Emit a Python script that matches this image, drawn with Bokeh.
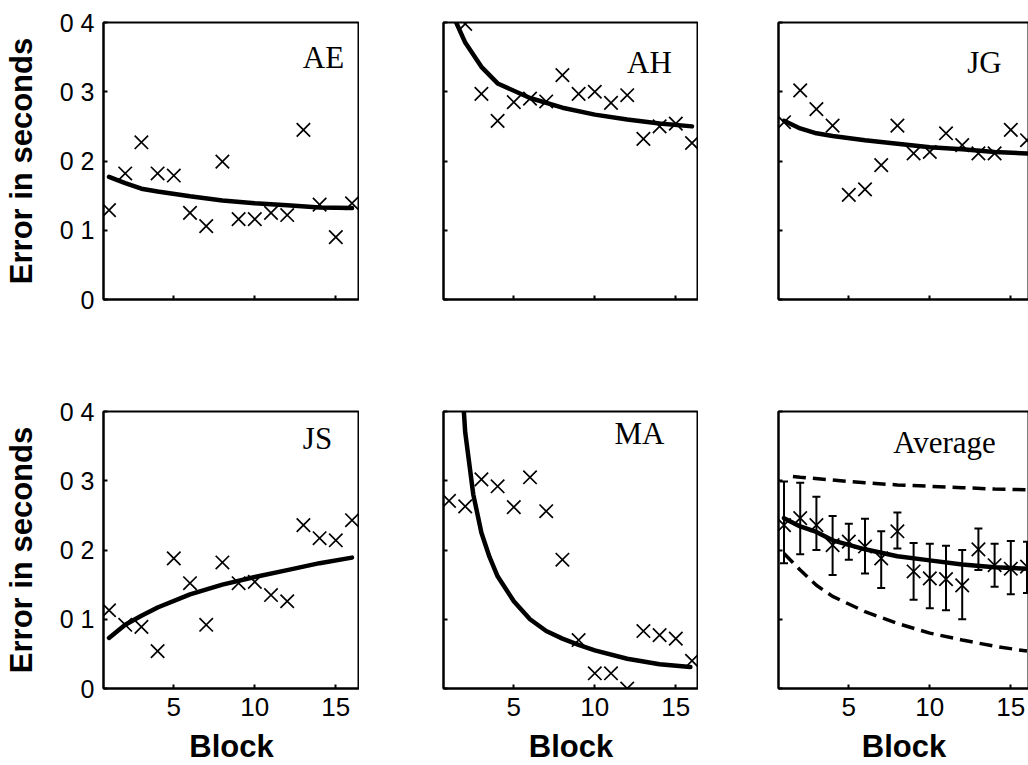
from bokeh.plotting import figure
from bokeh.layouts import column, row
from bokeh.models import Range1d, FixedTicker
from bokeh.core.properties import value
from bokeh.embed import file_html
from bokeh.resources import INLINE

# ---- data -------------------------------------------------------------
blocks = list(range(1, 17))
x_ticks = [5, 10, 15]
y_ticks = [0, 0.1, 0.2, 0.3, 0.4]
y_tick_labels = ["0", "0 1", "0 2", "0 3", "0 4"]

# per-subject timing error (s) for each block
ae_err = [0.129, 0.182, 0.227, 0.182, 0.179, 0.125, 0.106, 0.199,
          0.116, 0.116, 0.125, 0.122, 0.245, 0.137, 0.090, 0.139]
ah_err = [0.43, 0.398, 0.297, 0.258, 0.285, 0.290, 0.286, 0.324,
          0.297, 0.300, 0.284, 0.295, 0.232, 0.250, 0.254, 0.226]
jg_err = [0.256, 0.302, 0.275, 0.251, 0.151, 0.159, 0.194, 0.251,
          0.211, 0.213, 0.240, 0.223, 0.211, 0.211, 0.245, 0.230]
js_err = [0.113, 0.092, 0.089, 0.054, 0.188, 0.152, 0.092, 0.182,
          0.152, 0.154, 0.135, 0.126, 0.236, 0.217, 0.214, 0.243]
ma_err = [0.271, 0.263, 0.302, 0.292, 0.262, 0.305, 0.256, 0.186,
          0.070, 0.022, 0.022, 0.000, 0.083, 0.077, 0.072, 0.040]

# group mean with error-bar limits
avg_err = [0.236, 0.246, 0.236, 0.207, 0.212, 0.205, 0.188, 0.227,
           0.169, 0.159, 0.158, 0.149, 0.201, 0.178, 0.173, 0.176]
avg_hi = [0.299, 0.297, 0.277, 0.249, 0.238, 0.245, 0.227, 0.254,
          0.210, 0.209, 0.206, 0.200, 0.231, 0.209, 0.213, 0.212]
avg_lo = [0.181, 0.194, 0.200, 0.164, 0.186, 0.166, 0.145, 0.202,
          0.128, 0.116, 0.113, 0.100, 0.171, 0.147, 0.136, 0.138]

# fitted learning curves
fit_x = [1, 2, 3, 4, 6, 8, 10, 12, 14, 16]
ae_fit = [0.177, 0.168, 0.160, 0.156, 0.149, 0.143, 0.139, 0.136, 0.133, 0.132]
ah_fit = [0.423, 0.371, 0.336, 0.312, 0.291, 0.277, 0.267, 0.260, 0.254, 0.250]
jg_fit = [0.258, 0.247, 0.240, 0.236, 0.230, 0.225, 0.220, 0.217, 0.213, 0.211]
js_fit = [0.073, 0.092, 0.105, 0.117, 0.136, 0.150, 0.161, 0.171, 0.181, 0.189]
avg_fit = [0.246, 0.234, 0.226, 0.214, 0.201, 0.191, 0.185, 0.179, 0.175, 0.173]

ma_fit_x = [1, 1.5, 2, 2.5, 3, 3.5, 4, 5, 6, 7, 8, 9, 10, 12, 14, 15.9]
ma_fit = [0.84, 0.55, 0.37, 0.28, 0.225, 0.19, 0.162, 0.126, 0.100, 0.083,
          0.072, 0.063, 0.055, 0.043, 0.035, 0.031]

# bounds of the average curve
upper_x = [1.55, 2, 4, 6, 8, 10, 12, 14, 16]
upper_b = [0.306, 0.305, 0.301, 0.297, 0.294, 0.292, 0.290, 0.288, 0.287]
lower_x = [1, 2, 3, 4, 6, 8, 10, 12, 14, 16]
lower_b = [0.195, 0.171, 0.149, 0.133, 0.111, 0.094, 0.080, 0.070, 0.061, 0.054]

# ---- styling ----------------------------------------------------------
SANS = "Liberation Sans"
SERIF = "Liberation Serif"
PX_PER_BLOCK = 16.2
X0 = 0.66
FRAME_H = 277
frame_w = [256, 255, 251]
left_b = [102, 84, 80]
MARK = 19


def make_panel(col, bottom_row, name, title_dx, title_dy):
    fw = frame_w[col]
    p = figure(
        frame_width=fw, frame_height=FRAME_H,
        x_range=Range1d(X0, X0 + fw / PX_PER_BLOCK),
        y_range=Range1d(0, 0.4),
        output_backend="svg", toolbar_location=None,
        min_border_left=left_b[col], min_border_right=0,
        min_border_top=72 if bottom_row else 22,
        min_border_bottom=77 if bottom_row else 40,
    )
    p.grid.visible = False
    p.outline_line_color = "black"
    p.outline_line_width = 2
    p.outline_line_alpha = 1
    p.background_fill_color = "white"
    p.border_fill_color = "white"

    for ax in (p.xaxis[0], p.yaxis[0]):
        ax.axis_line_color = "black"
        ax.axis_line_width = 2
        ax.major_tick_in = 4
        ax.major_tick_out = 0
        ax.major_tick_line_width = 2
        ax.minor_tick_line_color = None
        ax.major_label_text_font = SANS
        ax.major_label_text_color = "black"
        ax.axis_label_text_font = SANS
        ax.axis_label_text_font_style = "bold"
        ax.axis_label_text_font_size = "31px"
        ax.axis_label_text_color = "black"

    xa, ya = p.xaxis[0], p.yaxis[0]
    xa.ticker = FixedTicker(ticks=x_ticks)
    ya.ticker = FixedTicker(ticks=y_ticks)
    xa.major_label_text_font_size = "26px"
    ya.major_label_text_font_size = "25px"

    if bottom_row:
        xa.axis_label = "Block"
        xa.major_label_standoff = 9
        xa.axis_label_standoff = 10
    else:
        xa.major_label_overrides = {t: "" for t in x_ticks}

    if col == 0:
        ya.axis_label = "Error in seconds"
        ya.major_label_overrides = dict(zip(y_ticks, y_tick_labels))
        ya.major_label_standoff = 9
        ya.axis_label_standoff = 18
    else:
        ya.major_label_overrides = {t: "" for t in y_ticks}

    # panel name in the upper right of the frame
    p.text(x=[X0 + title_dx / PX_PER_BLOCK], y=[0.4 - title_dy * 0.4 / FRAME_H],
           text=[name], text_font=value(SERIF), text_font_size="31px",
           text_align="center", text_baseline="middle", text_color="black")
    return p


def add_subject(p, err, fx, fy):
    p.line(fx, fy, line_color="black", line_width=4.5, line_cap="round")
    p.scatter(blocks, err, marker="x", size=MARK, line_color="black",
              line_width=1.7)


p_ae = make_panel(0, False, "AE", 220, 35)
add_subject(p_ae, ae_err, fit_x, ae_fit)

p_ah = make_panel(1, False, "AH", 206, 40)
add_subject(p_ah, ah_err, fit_x, ah_fit)

p_jg = make_panel(2, False, "JG", 206, 40)
add_subject(p_jg, jg_err, fit_x, jg_fit)

p_js = make_panel(0, True, "JS", 214, 27)
add_subject(p_js, js_err, fit_x, js_fit)

p_ma = make_panel(1, True, "MA", 196, 22)
add_subject(p_ma, ma_err, ma_fit_x, ma_fit)

p_avg = make_panel(2, True, "Average", 166, 31)
p_avg.line(upper_x, upper_b, line_color="black", line_width=3.5,
           line_dash="13 7")
p_avg.line(lower_x, lower_b, line_color="black", line_width=3.5,
           line_dash="13 7")
p_avg.segment(x0=blocks, y0=avg_lo, x1=blocks, y1=avg_hi,
              line_color="black", line_width=2)
p_avg.scatter(blocks, avg_hi, marker="dash", size=8, line_color="black",
              line_width=2)
p_avg.scatter(blocks, avg_lo, marker="dash", size=8, line_color="black",
              line_width=2)
p_avg.line(fit_x, avg_fit, line_color="black", line_width=4.5,
           line_cap="round")
p_avg.scatter(blocks, avg_err, marker="x", size=MARK, line_color="black",
              line_width=1.7)

layout = column(row(p_ae, p_ah, p_jg, spacing=0),
                row(p_js, p_ma, p_avg, spacing=0), spacing=0)

open("out.html", "w").write(file_html(layout, INLINE))
